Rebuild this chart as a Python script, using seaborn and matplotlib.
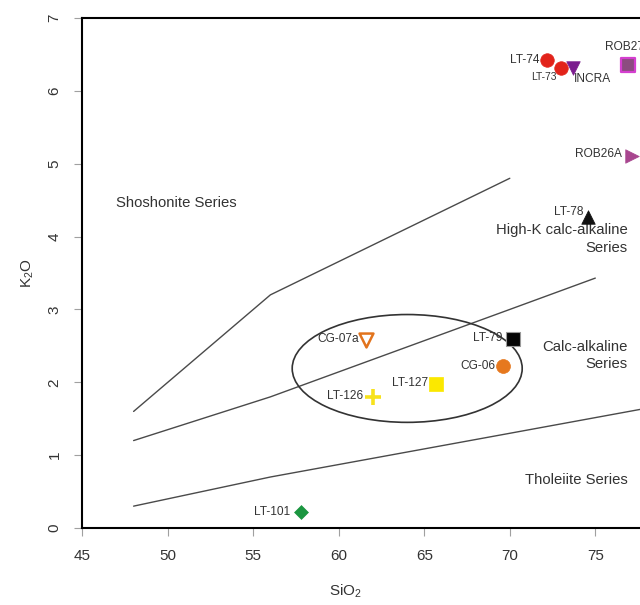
import matplotlib
matplotlib.use("Agg")
import matplotlib.pyplot as plt
from matplotlib.patches import Ellipse
import pandas as pd
import seaborn as sns

# ---- sample compositions (wt%) ----
samples = ["LT-74", "LT-73", "INCRA", "ROB27", "ROB26A", "LT-78",
           "LT-79", "CG-06", "LT-127", "LT-126", "CG-07a", "LT-101"]
sio2 = [72.2, 73.0, 73.7, 76.9, 77.15, 74.6, 70.2, 69.6, 65.7, 62.0, 61.6, 57.8]
k2o = [6.43, 6.32, 6.32, 6.36, 5.10, 4.27, 2.59, 2.23, 1.98, 1.80, 2.58, 0.22]

# ---- series boundaries (Peccerillo & Taylor) ----
sho_sio2 = [48, 56, 70]
sho_k2o = [1.6, 3.2, 4.8]
hk_sio2 = [48, 52, 56, 63, 70, 75]
hk_k2o = [1.2, 1.5, 1.8, 2.4, 3.0, 3.43]
th_sio2 = [48, 52, 56, 63, 70, 80]
th_k2o = [0.3, 0.5, 0.7, 1.0, 1.3, 1.73]

# ---- series names ----
series_names = ["Shoshonite Series", "High-K calc-alkaline", "Series",
                "Calc-alkaline", "Series", "Tholeiite Series"]
series_x = [46.97, 76.9, 76.9, 76.9, 76.9, 76.9]
series_y = [4.46, 4.09, 3.85, 2.49, 2.25, 0.66]
series_ha = ["left", "right", "right", "right", "right", "right"]

x_ticks = [45, 50, 55, 60, 65, 70, 75]
y_ticks = [0, 1, 2, 3, 4, 5, 6, 7]

# marker style per sample: marker, face, edge, size, linewidth
styles = {
    "LT-74":  ("o", "#e2231a", "#e2231a", 95, 0.5),
    "LT-73":  ("o", "#e2231a", "#e2231a", 95, 0.5),
    "INCRA":  ("v", "#7b1c8e", "#7b1c8e", 95, 0.5),
    "ROB27":  ("s", "#8c4c80", "#d43fcf", 105, 1.6),
    "ROB26A": (">", "#a8468f", "#a8468f", 95, 0.5),
    "LT-78":  ("^", "#111111", "#111111", 95, 0.5),
    "LT-79":  ("s", "#050505", "#9a9a9a", 88, 0.8),
    "CG-06":  ("o", "#e6781e", "#e6781e", 100, 0.5),
    "LT-127": ("s", "#fbe800", "#fbe800", 100, 0.5),
    "LT-126": ("+", "#f7e21c", "#f7e21c", 130, 2.6),
    "CG-07a": ("v", "white", "#e2731c", 100, 1.8),
    "LT-101": ("D", "#1b9640", "#1b9640", 50, 0.5),
}

# label offset (pixels) and alignment per sample
label_pos = {
    "LT-74":  (-8, 0, "right", 8.6),
    "LT-73":  (-4, -9, "right", 7.4),
    "INCRA":  (1, -11, "left", 8.6),
    "ROB27":  (-23, 18, "left", 8.6),
    "ROB26A": (-10, 2, "right", 8.6),
    "LT-78":  (-5, 5, "right", 8.6),
    "LT-79":  (-11, 1, "right", 8.6),
    "CG-06":  (-8, 0, "right", 8.6),
    "LT-127": (-8, 1, "right", 8.6),
    "LT-126": (-10, 1, "right", 8.6),
    "CG-07a": (-7, 1, "right", 8.6),
    "LT-101": (-11, 0, "right", 8.6),
}

df = pd.DataFrame({"sample": samples, "SiO2": sio2, "K2O": k2o})

sns.set_style("white")
plt.rcParams["font.family"] = ["Liberation Sans", "DejaVu Sans"]
plt.rcParams["mathtext.default"] = "regular"

fig = plt.figure(figsize=(6.4, 6.05), dpi=100)
# axes runs past the right edge of the canvas
ax = fig.add_axes([82.3 / 640, 77 / 605, 598.5 / 640, 510 / 605])

line_kw = dict(color="#4a4a4a", linewidth=1.0, sort=False, estimator=None, ax=ax)
sns.lineplot(x=sho_sio2, y=sho_k2o, **line_kw)
sns.lineplot(x=hk_sio2, y=hk_k2o, **line_kw)
sns.lineplot(x=th_sio2, y=th_k2o, **line_kw)

ax.add_patch(Ellipse((64.0, 2.19), 13.45, 1.48, facecolor="none",
                     edgecolor="#333333", linewidth=1.2, zorder=2))

for name in samples:
    m, fc, ec, s, lw = styles[name]
    sub = df[df["sample"] == name]
    sns.scatterplot(data=sub, x="SiO2", y="K2O", marker=m, s=s, color=fc,
                    edgecolor=ec, linewidth=lw, ax=ax, zorder=4, legend=False)
    dx, dy, ha, fs = label_pos[name]
    ax.annotate(name, (sub["SiO2"].iloc[0], sub["K2O"].iloc[0]),
                xytext=(dx, dy), textcoords="offset pixels", ha=ha,
                va="center", fontsize=fs, color="#333333", zorder=5)

for t, x, y, ha in zip(series_names, series_x, series_y, series_ha):
    ax.text(x, y, t, ha=ha, va="center", fontsize=10.7, color="#333333")

ax.set_xlim(45, 80)
ax.set_ylim(0, 7)
ax.set_xticks(x_ticks)
ax.set_yticks(y_ticks)
ax.tick_params(axis="both", direction="out", length=5.8, width=0.8,
               color="#a0a0a0", labelsize=11, labelcolor="#333333")
ax.tick_params(axis="x", pad=9)
ax.tick_params(axis="y", pad=9)
ax.tick_params(axis="both", which="both", bottom=True, left=True)
for lab in ax.get_yticklabels():
    lab.set_rotation(90)
    lab.set_va("center")

for side in ["left", "bottom", "top", "right"]:
    ax.spines[side].set_visible(True)
    ax.spines[side].set_color("black")
    ax.spines[side].set_linewidth(1.5)

ax.set_xlabel("SiO$_2$", fontsize=11, color="#333333")
ax.set_ylabel("K$_2$O", fontsize=11, color="#333333")
ax.xaxis.set_label_coords(0.439, -0.108)
ax.yaxis.set_label_coords(-0.077, 0.5)

fig.savefig("out.png", dpi=100)
